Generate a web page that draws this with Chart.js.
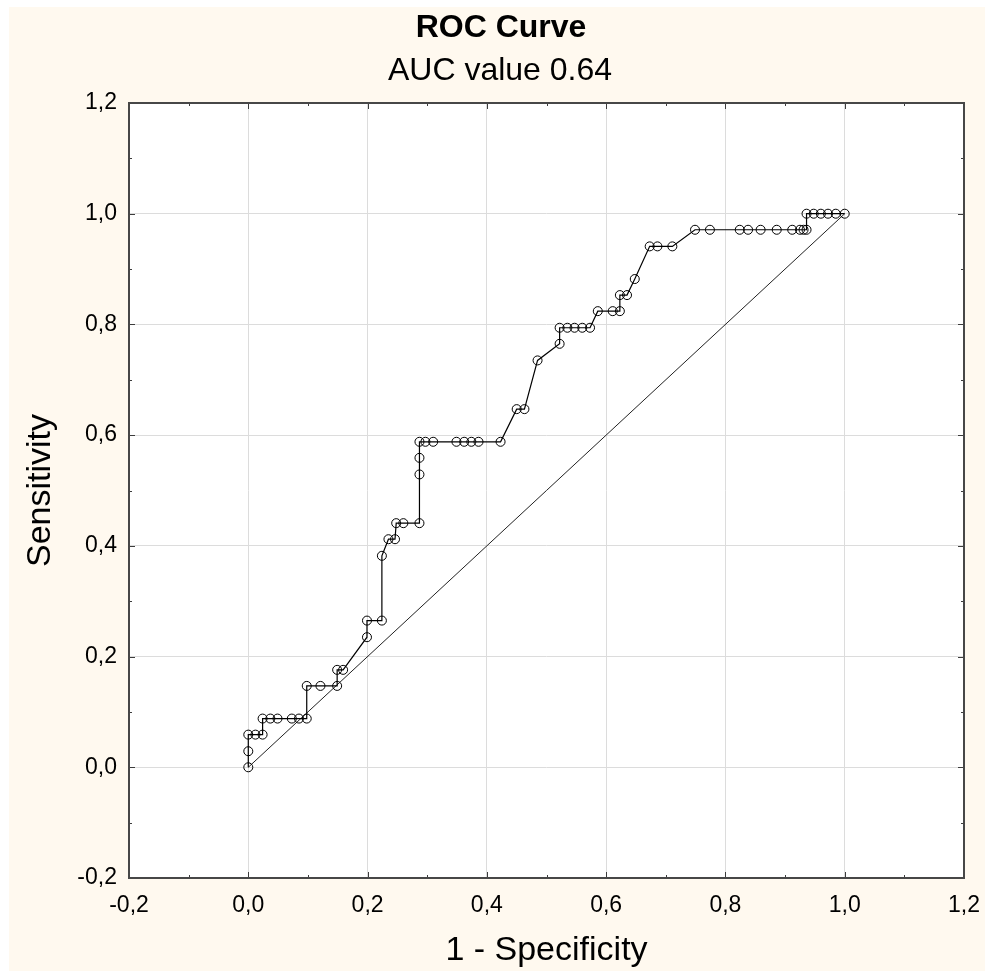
<!DOCTYPE html>
<html>
<head>
<meta charset="utf-8">
<script src="https://cdn.jsdelivr.net/npm/chart.js@4/dist/chart.umd.min.js"></script>
<style>
  html, body { margin: 0; padding: 0; background: #fff; overflow: hidden; }
  #wrap { width: 985px; height: 971px; }
  canvas { display: block; }
</style>
</head>
<body>
<div id="wrap"><canvas id="rocChart" width="985" height="971"></canvas></div>
<script>
// 1 - specificity (x) and sensitivity (y) of each ROC point
const rocFpr = [
  0, 0, 0, 0.012, 0.024,
  0.024, 0.037, 0.049, 0.073, 0.085, 0.098,
  0.098, 0.121, 0.149,
  0.149, 0.159,
  0.199, 0.199, 0.224,
  0.224, 0.235, 0.246,
  0.248, 0.260, 0.287,
  0.287, 0.287,
  0.287, 0.297, 0.310, 0.349, 0.362, 0.374, 0.386, 0.423,
  0.450, 0.463,
  0.485, 0.522,
  0.522, 0.535, 0.547, 0.560, 0.573,
  0.586, 0.611, 0.623,
  0.623, 0.635,
  0.648,
  0.673, 0.686, 0.711,
  0.749, 0.774, 0.824, 0.838, 0.859, 0.886, 0.912, 0.925, 0.931, 0.936,
  0.936, 0.948, 0.960, 0.972, 0.985, 1.0
];
const rocSens = [
  0, 0.029, 0.059, 0.059, 0.059,
  0.088, 0.088, 0.088, 0.088, 0.088, 0.088,
  0.147, 0.147, 0.147,
  0.176, 0.176,
  0.235, 0.265, 0.265,
  0.382, 0.412, 0.412,
  0.441, 0.441, 0.441,
  0.529, 0.559,
  0.588, 0.588, 0.588, 0.588, 0.588, 0.588, 0.588, 0.588,
  0.647, 0.647,
  0.735, 0.765,
  0.794, 0.794, 0.794, 0.794, 0.794,
  0.824, 0.824, 0.824,
  0.853, 0.853,
  0.882,
  0.941, 0.941, 0.941,
  0.971, 0.971, 0.971, 0.971, 0.971, 0.971, 0.971, 0.971, 0.971, 0.971,
  1.0, 1.0, 1.0, 1.0, 1.0, 1.0
];
const refFpr = [0, 1];
const refSens = [0, 1];
const axisMin = -0.2;
const axisMax = 1.2;
const axisStep = 0.2;
const chartTitle = 'ROC Curve';
const chartSubtitle = 'AUC value 0.64';
const xTitle = '1 - Specificity';
const yTitle = 'Sensitivity';

const FONT = '"Liberation Sans", Arial, sans-serif';
const fmt = (v) => (Math.abs(v) < 1e-9 ? 0 : v).toFixed(1).replace('.', ',');

const rocPoints = rocFpr.map((x, i) => ({ x: x, y: rocSens[i] }));
const refPoints = refFpr.map((x, i) => ({ x: x, y: refSens[i] }));

// background, frame, inner tick marks and titles
const statisticaLook = {
  id: 'statisticaLook',
  beforeDraw(chart) {
    const ctx = chart.ctx;
    const a = chart.chartArea;
    ctx.save();
    ctx.fillStyle = '#ffffff';
    ctx.fillRect(0, 0, chart.width, chart.height);
    ctx.fillStyle = '#fff9ef';
    ctx.fillRect(9, 7, chart.width - 9, chart.height - 7);
    ctx.fillStyle = '#ffffff';
    ctx.fillRect(a.left, a.top, a.right - a.left, a.bottom - a.top);
    ctx.restore();
  },
  afterDraw(chart) {
    const ctx = chart.ctx;
    const a = chart.chartArea;
    const xs = chart.scales.x;
    const ys = chart.scales.y;
    ctx.save();
    ctx.strokeStyle = '#3c3c3c';
    ctx.lineWidth = 1;
    ctx.beginPath();
    for (let k = 1; k < 14; k++) {
      const v = axisMin + k * 0.1;
      const len = k % 2 === 0 ? 6 : 3;
      const px = Math.round(xs.getPixelForValue(v)) + 0.5;
      const py = Math.round(ys.getPixelForValue(v)) + 0.5;
      ctx.moveTo(px, a.bottom); ctx.lineTo(px, a.bottom - len);
      ctx.moveTo(px, a.top); ctx.lineTo(px, a.top + len);
      ctx.moveTo(a.left, py); ctx.lineTo(a.left + len, py);
      ctx.moveTo(a.right, py); ctx.lineTo(a.right - len, py);
    }
    ctx.stroke();
    ctx.lineWidth = 2;
    ctx.strokeStyle = '#474747';
    ctx.strokeRect(a.left, a.top, a.right - a.left, a.bottom - a.top);

    ctx.fillStyle = '#000';
    ctx.textAlign = 'center';
    ctx.textBaseline = 'alphabetic';
    ctx.font = 'bold 32px ' + FONT;
    ctx.fillText(chartTitle, 501, 37);
    ctx.font = '32px ' + FONT;
    ctx.fillText(chartSubtitle, 500, 80);
    ctx.restore();
  }
};

new Chart(document.getElementById('rocChart'), {
  type: 'scatter',
  data: {
    datasets: [
      {
        label: 'ROC',
        data: rocPoints,
        showLine: true,
        borderColor: '#000',
        borderWidth: 1.2,
        pointRadius: 4.5,
        pointBorderWidth: 1,
        pointBorderColor: '#000',
        pointBackgroundColor: 'rgba(0,0,0,0)',
        tension: 0
      },
      {
        label: 'Reference',
        data: refPoints,
        showLine: true,
        borderColor: '#222',
        borderWidth: 1,
        pointRadius: 0,
        tension: 0
      }
    ]
  },
  options: {
    responsive: false,
    animation: false,
    devicePixelRatio: 1,
    layout: { padding: { top: 103, right: 21, left: 0, bottom: 0 } },
    plugins: {
      legend: { display: false },
      tooltip: { enabled: false }
    },
    scales: {
      x: {
        type: 'linear',
        min: axisMin,
        max: axisMax,
        border: { display: false },
        grid: { color: '#dcdcdc', lineWidth: 1, drawTicks: false },
        ticks: {
          stepSize: axisStep,
          padding: 14,
          color: '#000',
          font: { family: FONT, size: 23 },
          callback: (v) => fmt(v)
        },
        title: {
          display: true,
          text: xTitle,
          color: '#000',
          font: { family: FONT, size: 34 },
          padding: { top: 0, bottom: 0 }
        },
        afterFit: (s) => {
          s.height = 93;
          s.paddingLeft = 0;
          s.paddingRight = 0;
        }
      },
      y: {
        type: 'linear',
        min: axisMin,
        max: axisMax,
        border: { display: false },
        grid: { color: '#dcdcdc', lineWidth: 1, drawTicks: false },
        ticks: {
          stepSize: axisStep,
          padding: 12,
          color: '#000',
          font: { family: FONT, size: 23 },
          callback: (v) => fmt(v)
        },
        title: {
          display: true,
          text: yTitle,
          color: '#000',
          font: { family: FONT, size: 34 },
          padding: { top: 20, bottom: 0 }
        },
        afterFit: (s) => { s.width = 129; }
      }
    }
  },
  plugins: [statisticaLook]
});
</script>
</body>
</html>
